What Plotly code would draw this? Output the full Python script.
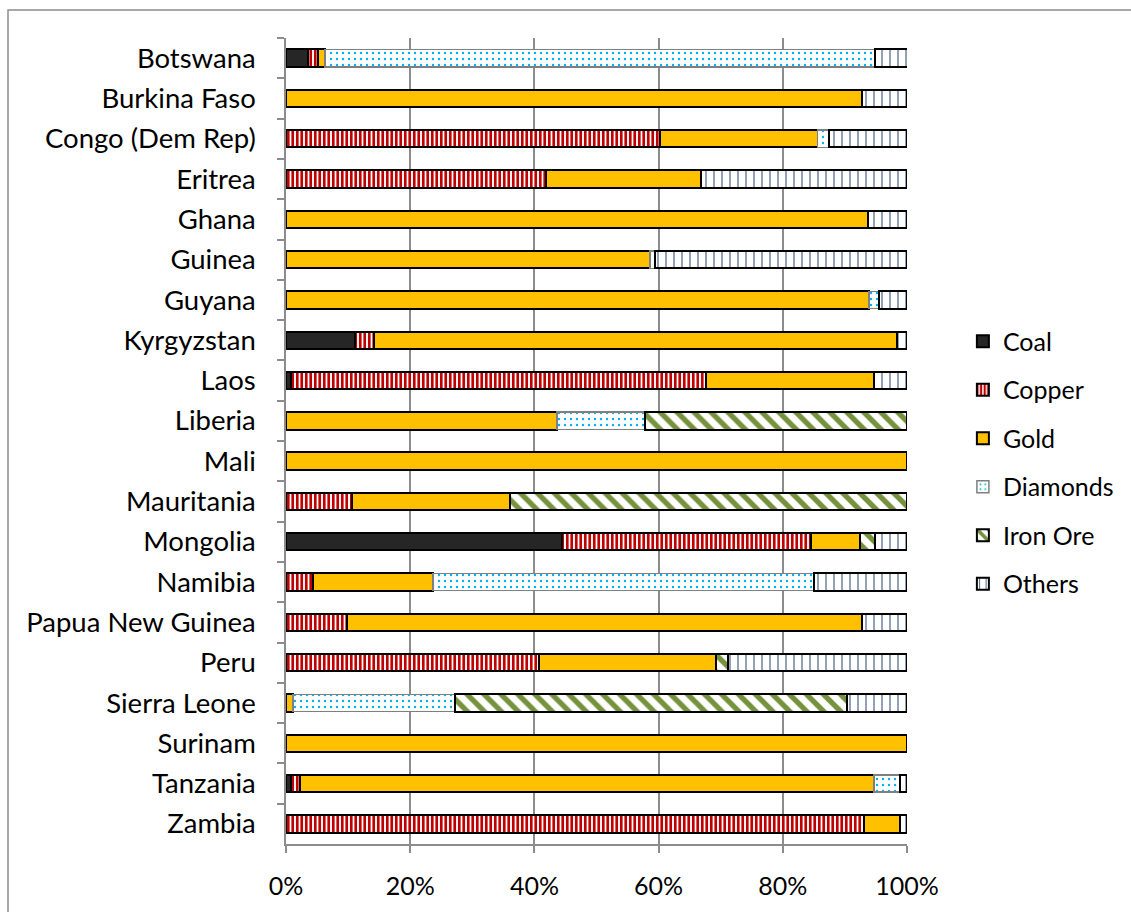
import plotly.graph_objects as go

countries = ["Botswana", "Burkina Faso", "Congo (Dem Rep)", "Eritrea", "Ghana", "Guinea",
             "Guyana", "Kyrgyzstan", "Laos", "Liberia", "Mali", "Mauritania", "Mongolia",
             "Namibia", "Papua New Guinea", "Peru", "Sierra Leone", "Surinam", "Tanzania", "Zambia"]

coal     = [3.6, 0, 0, 0, 0, 0, 0, 11.1, 0.8, 0, 0, 0, 44.4, 0, 0, 0, 0, 0, 0.8, 0]
copper   = [1.5, 0, 60.2, 41.9, 0, 0, 0, 3.1, 66.8, 0, 0, 10.7, 40.1, 4.3, 9.8, 40.8, 0, 0, 1.5, 93.0]
gold     = [1.2, 92.7, 25.4, 24.9, 93.7, 58.6, 93.9, 84.2, 27.1, 43.6, 100, 25.3, 7.9, 19.4, 83.0, 28.4, 1.1, 100, 92.4, 5.8]
diamonds = [88.5, 0, 1.9, 0, 0, 0.8, 1.6, 0, 0, 14.2, 0, 0, 0, 61.4, 0, 0, 26.1, 0, 4.2, 0]
iron_ore = [0, 0, 0, 0, 0, 0, 0, 0, 0, 42.2, 0, 64.0, 2.5, 0, 0, 1.9, 63.1, 0, 0, 0]
others   = [5.3, 7.3, 12.5, 33.2, 6.3, 40.6, 4.5, 1.6, 5.3, 0, 0, 0, 5.1, 14.9, 7.2, 28.9, 9.7, 0, 1.1, 1.2]

x_ticks = [0, 20, 40, 60, 80, 100]
x_tick_labels = ["0%", "20%", "40%", "60%", "80%", "100%"]

series = [
    ("Coal", coal, dict(color="#262626", line=dict(color="#000000", width=2))),
    ("Copper", copper, dict(color="#FFFFFF", line=dict(color="#000000", width=2),
                            pattern=dict(shape="|", fgcolor="#C00000", bgcolor="#FFFFFF", fgopacity=1,
                                         size=4.5, solidity=0.6, fillmode="overlay"))),
    ("Gold", gold, dict(color="#FFC000", line=dict(color="#000000", width=2))),
    ("Diamonds", diamonds, dict(color="#FFFFFF", line=dict(color="#7F7F7F", width=1.5),
                                pattern=dict(shape=".", fgcolor="#00B0F0", bgcolor="#FFFFFF", fgopacity=1,
                                             size=6, solidity=0.12, fillmode="overlay"))),
    ("Iron Ore", iron_ore, dict(color="#FFFFFF", line=dict(color="#000000", width=2),
                                pattern=dict(shape="\\", fgcolor="#76923C", bgcolor="#FFFFFF", fgopacity=1,
                                             size=12, solidity=0.45, fillmode="overlay"))),
    ("Others", others, dict(color="#FFFFFF", line=dict(color="#000000", width=2),
                            pattern=dict(shape="|", fgcolor="#1F3864", bgcolor="#FFFFFF", fgopacity=1,
                                         size=8, solidity=0.12, fillmode="overlay"))),
]

fig = go.Figure()
for i, (name, vals, marker) in enumerate(series):
    fig.add_trace(go.Bar(
        y=countries, x=vals, name=name, orientation="h",
        marker=marker, width=0.43, legendgroup="g%d" % i,
    ))

FONT = "Lato, 'Open Sans', sans-serif"
fig.update_layout(
    barmode="stack",
    width=1131, height=912,
    margin=dict(l=286, r=224, t=38, b=68, autoexpand=False),
    paper_bgcolor="white", plot_bgcolor="white",
    font=dict(family=FONT, size=26, color="#000000"),
    showlegend=True,
    legend=dict(x=1.09, y=0.652, xanchor="left", yanchor="top",
                font=dict(size=25), traceorder="grouped", tracegroupgap=13,
                itemwidth=30, bgcolor="rgba(0,0,0,0)"),
    xaxis=dict(range=[0, 100], tickvals=x_ticks, ticktext=x_tick_labels,
               tickfont=dict(size=25),
               showgrid=True, gridcolor="#8C8C8C", gridwidth=1.5,
               showline=True, linecolor="#8C8C8C", linewidth=1.5,
               ticks="outside", ticklen=7, tickcolor="#8C8C8C", tickwidth=1.5,
               ticklabelstandoff=12, zeroline=False, fixedrange=True),
    yaxis=dict(autorange="reversed", showgrid=False,
               tickfont=dict(size=27.5),
               showline=True, linecolor="#8C8C8C", linewidth=1.5,
               ticks="outside", ticklen=7, tickcolor="#8C8C8C", tickwidth=1.5,
               tickson="boundaries", ticklabelstandoff=23, fixedrange=True),
    shapes=[dict(type="rect", xref="paper", yref="paper",
                 x0=(8 - 286) / 621, x1=(1145 - 286) / 621,
                 y0=(844 - 930) / 806, y1=(844 - 10) / 806,
                 line=dict(color="#8C8C8C", width=1.5), fillcolor="rgba(0,0,0,0)", layer="below")],
)

fig.write_html("out.html")
